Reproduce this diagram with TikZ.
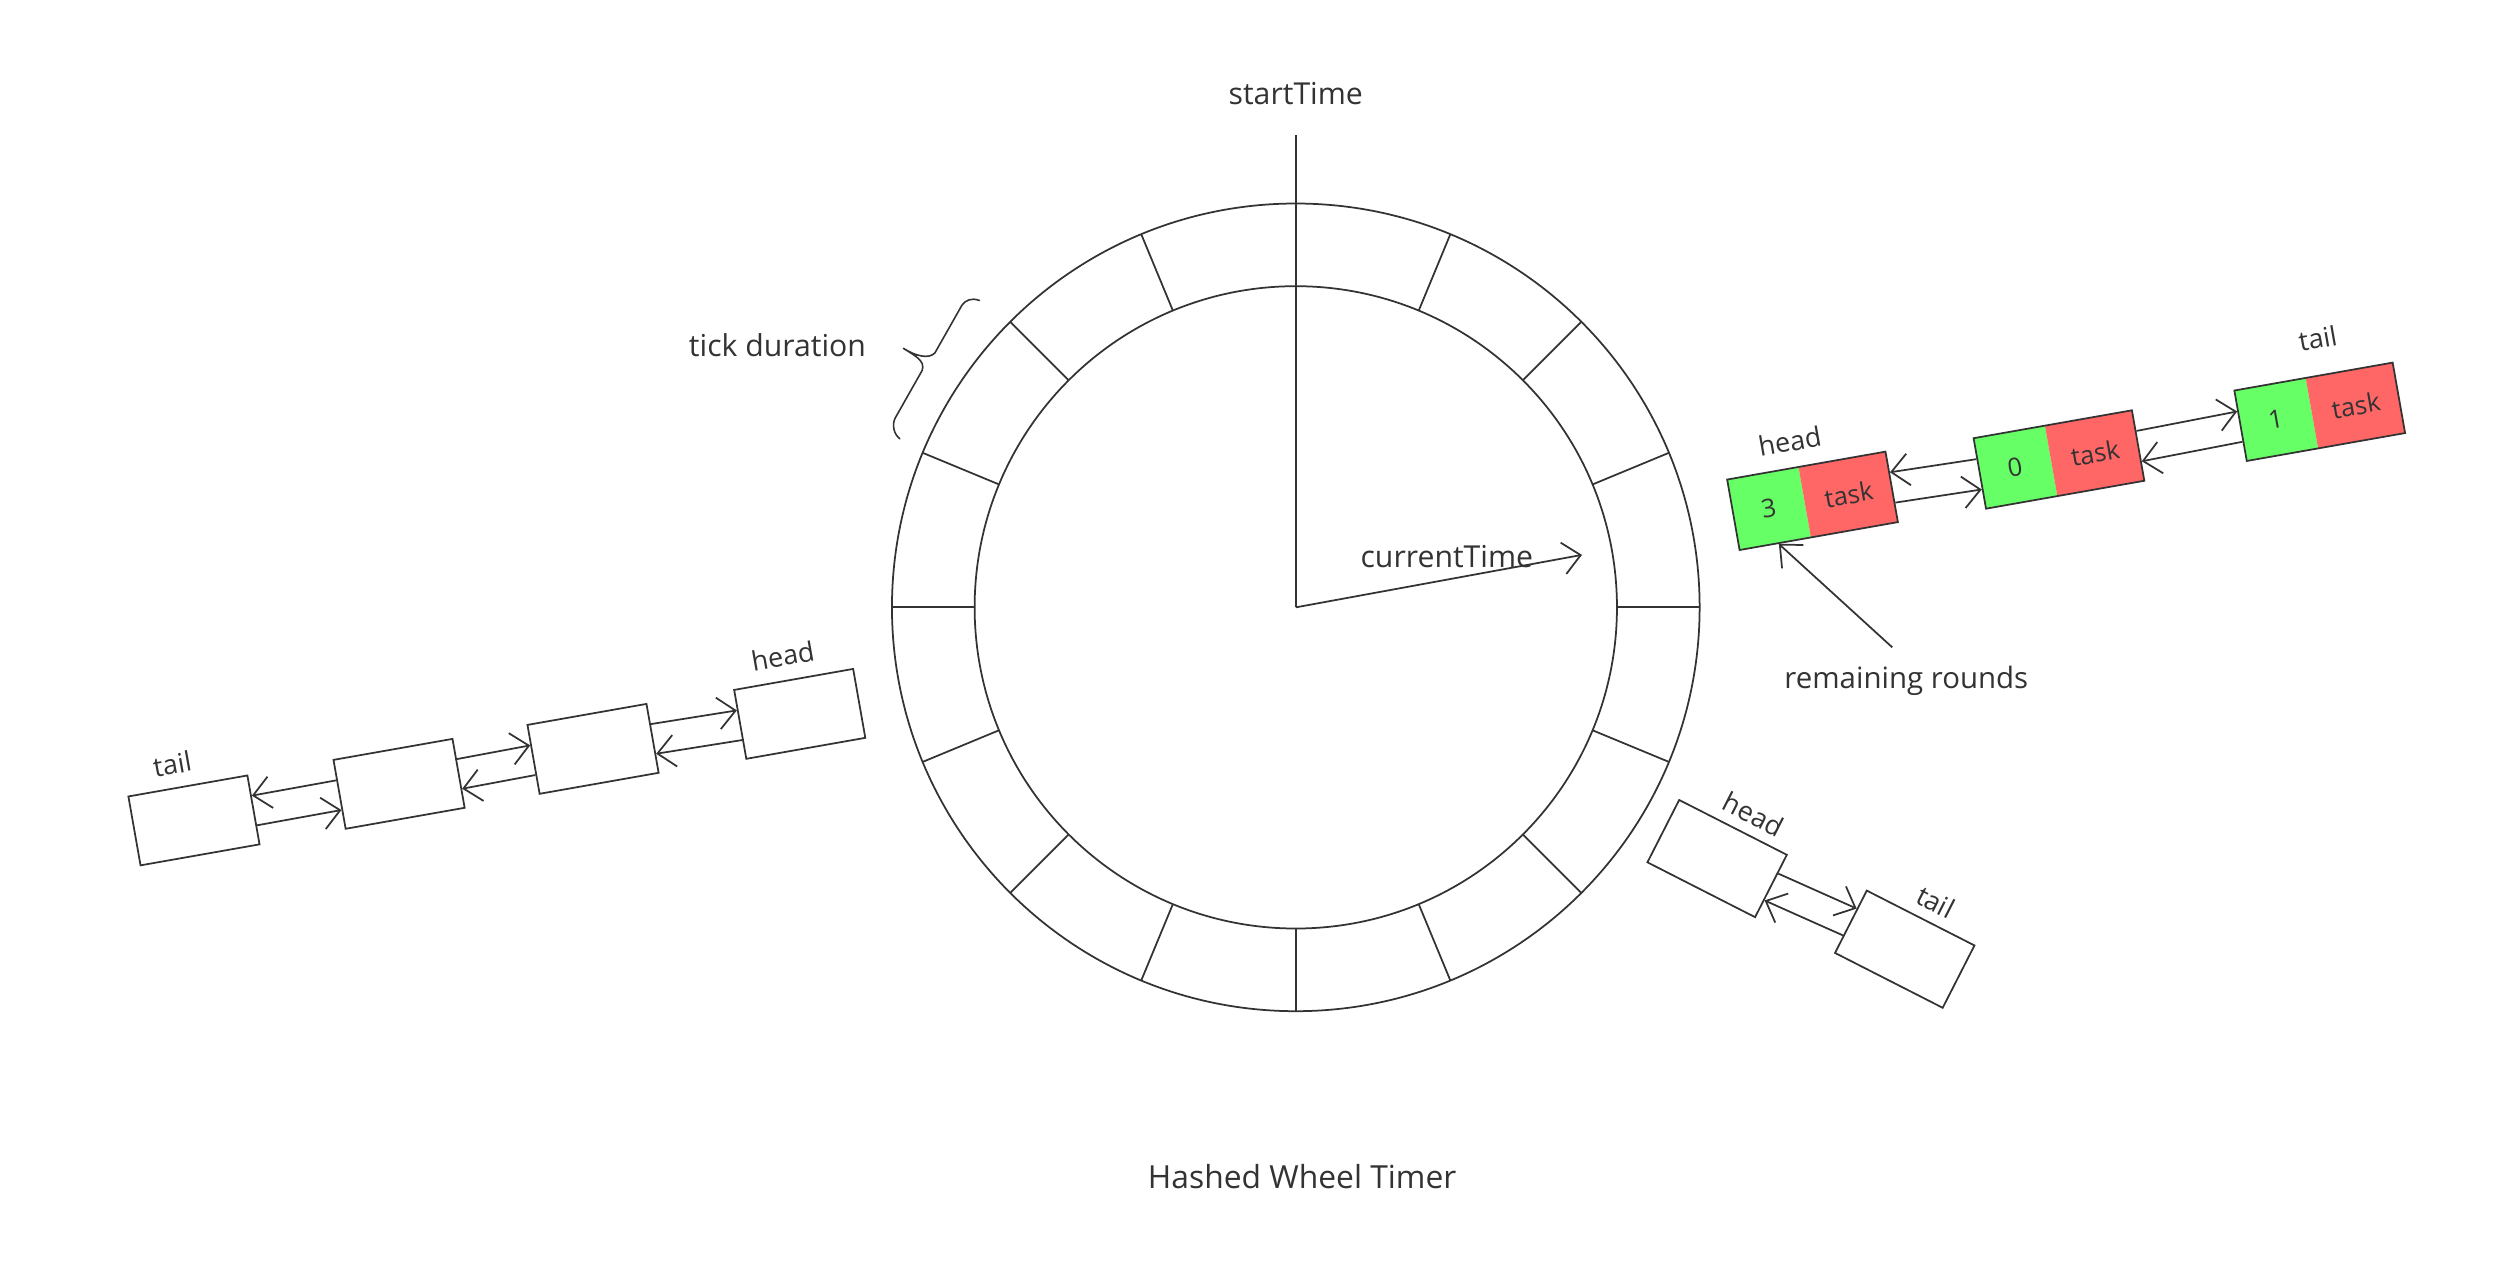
\documentclass[tikz,border=0pt]{standalone}
\usepackage{fontspec}
\setmainfont{Open Sans}
\usetikzlibrary{arrows.meta,calc,positioning,shapes.multipart}

\definecolor{ink}{HTML}{333333}
\definecolor{roundgreen}{HTML}{66FF66}
\definecolor{taskred}{HTML}{FF6666}

\tikzset{
  wire/.style={draw=ink, line width=1.1pt},
  ptr/.style={wire, -{Straight Barb[length=11pt,width=20pt]}},
  cell/.style={draw=ink, line width=1.1pt, minimum width=76pt, minimum height=44pt, inner sep=0pt},
  slot/.style={draw=ink, line width=1.1pt, rectangle split, rectangle split horizontal,
    rectangle split parts=2, rectangle split part fill={roundgreen,taskred},
    rectangle split draw splits=false, minimum height=45pt, inner xsep=5pt, inner ysep=0pt,
    text=ink, font=\fontsize{16}{18}\selectfont},
  lbl/.style={text=ink, font=\fontsize{19}{22}\selectfont},
  tag/.style={text=ink, font=\fontsize{17}{20}\selectfont, inner sep=6pt},
}

\begin{document}
\begin{tikzpicture}[x=1pt,y=-1pt]
  \useasboundingbox (0,0) rectangle (1568,800);

  % the wheel
  \coordinate (hub) at (815,382);
  \draw[wire] (hub) circle (254pt);
  \draw[wire] (hub) circle (202pt);
  \foreach \a in {0,22.5,...,337.5}
    \draw[wire] (hub) ++(\a:202pt) -- ++(\a:52pt);

  \node[lbl] (start) at (815,59) {startTime};
  \coordinate (zero) at (815,85);
  \draw[wire] (hub) -- (zero);

  \coordinate (now) at (995,349);
  \draw[ptr] (hub) -- (now);
  \node[lbl] (cur) at (910,350) {currentTime};

  % brace over one slot
  \node[lbl] (tick) at (489,217) {tick duration};
  \draw[wire, line width=1pt, line cap=round] (616,189) .. controls (611,187) and (607,189) .. (605,192)
    -- (588,222) .. controls (584,226) and (576,224) .. (568,219)
    .. controls (576,224) and (582,227) .. (580,233)
    -- (563,263) .. controls (561,267) and (562,273) .. (566,276);

  % bucket with rounds
  \node[slot, rotate=10] (r3) at (1140,315) {\makebox[35pt]{3}\nodepart{two}\makebox[45pt]{task}};
  \node[slot, rotate=10] (r0) at (1295,289) {\makebox[35pt]{0}\nodepart{two}\makebox[45pt]{task}};
  \node[slot, rotate=10] (r1) at (1459,259) {\makebox[35pt]{1}\nodepart{two}\makebox[45pt]{task}};
  \node[tag, rotate=10, anchor=south] (rhead) at ($(r3.north west)!0.4!(r3.north east)+(2,-4)$) {head};
  \node[tag, rotate=10, anchor=south] (rtail) at ($(r1.north west)!0.5!(r1.north east)+(5,-11)$) {tail};
  \draw[ptr] ($(r0.north west)!0.3!(r0.south west)$) -- ($(r3.north east)!0.3!(r3.south east)$);
  \draw[ptr] ($(r3.north east)!0.72!(r3.south east)$) -- ($(r0.north west)!0.72!(r0.south west)$);
  \draw[ptr] ($(r0.north east)!0.3!(r0.south east)$) -- ($(r1.north west)!0.3!(r1.south west)$);
  \draw[ptr] ($(r1.north west)!0.72!(r1.south west)$) -- ($(r0.north east)!0.72!(r0.south east)$);

  \node[lbl, font=\fontsize{18.5}{22}\selectfont] (rr) at (1199,428) {remaining rounds};
  \draw[ptr, shorten <=12pt] (rr.north) -- ($(r3.south west)!0.25!(r3.south east)$);

  % bucket on the left
  \node[cell, rotate=10] (l1) at (122,516) {};
  \node[cell, rotate=10] (l2) at (251,493) {};
  \node[cell, rotate=10] (l3) at (373,471) {};
  \node[cell, rotate=10] (l4) at (503,449) {};
  \node[tag, rotate=10, anchor=south] (ltail) at ($(l1.north west)!0.4!(l1.north east)+(0,-2)$) {tail};
  \node[tag, rotate=10, anchor=south] (lhead) at ($(l4.north west)!0.4!(l4.north east)+(3,-3)$) {head};
  \draw[ptr] ($(l2.north west)!0.3!(l2.south west)$) -- ($(l1.north east)!0.3!(l1.south east)$);
  \draw[ptr] ($(l1.north east)!0.72!(l1.south east)$) -- ($(l2.north west)!0.72!(l2.south west)$);
  \draw[ptr] ($(l2.north east)!0.3!(l2.south east)$) -- ($(l3.north west)!0.3!(l3.south west)$);
  \draw[ptr] ($(l3.north west)!0.72!(l3.south west)$) -- ($(l2.north east)!0.72!(l2.south east)$);
  \draw[ptr] ($(l3.north east)!0.3!(l3.south east)$) -- ($(l4.north west)!0.3!(l4.south west)$);
  \draw[ptr] ($(l4.north west)!0.72!(l4.south west)$) -- ($(l3.north east)!0.72!(l3.south east)$);

  % bucket bottom right
  \node[cell, rotate=-27] (b1) at (1080,540) {};
  \node[cell, rotate=-27] (b2) at (1198,597) {};
  \node[tag, rotate=-27, anchor=south] (bhead) at ($(b1.north west)!0.6!(b1.north east)$) {head};
  \node[tag, rotate=-27, anchor=south] (btail) at ($(b2.north west)!0.55!(b2.north east)$) {tail};
  \draw[ptr] ($(b1.north east)!0.3!(b1.south east)$) -- ($(b2.north west)!0.3!(b2.south west)$);
  \draw[ptr] ($(b2.north west)!0.72!(b2.south west)$) -- ($(b1.north east)!0.72!(b1.south east)$);

  \node[lbl, font=\fontsize{20}{24}\selectfont] (title) at (819,740) {Hashed Wheel Timer};
\end{tikzpicture}
\end{document}
